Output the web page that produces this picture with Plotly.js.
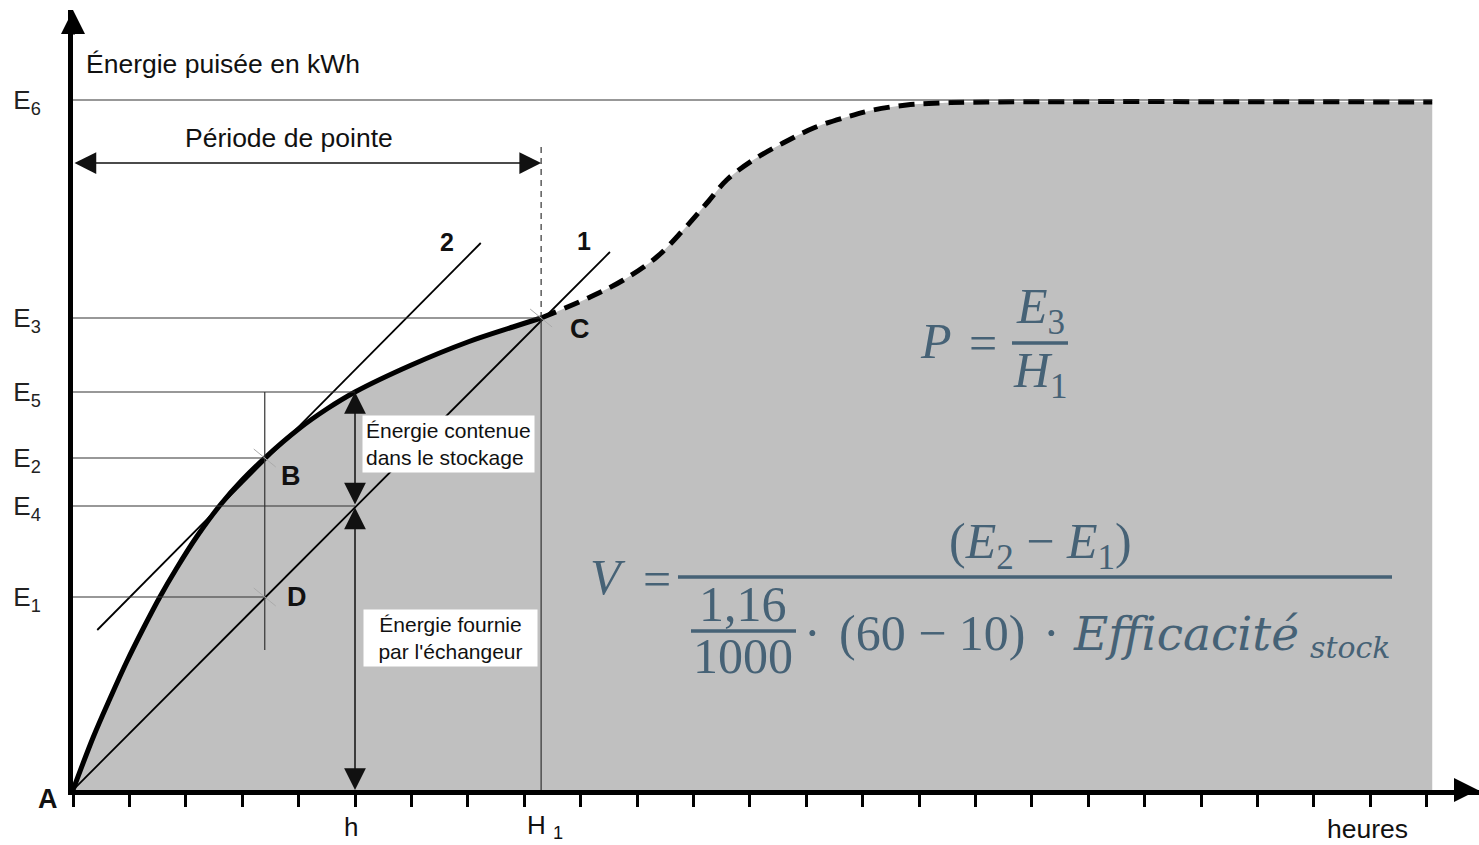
<!DOCTYPE html>
<html><head><meta charset="utf-8">
<script src="https://cdn.plot.ly/plotly-3.0.1.min.js"></script>
<style>html,body{margin:0;padding:0;background:#fff;}#chart{width:1479px;height:845px;}</style>
</head><body><div id="chart"></div>
<script>
// ---------- data (hours on x, energy units on y) ----------
const hourTicks = [0,1,2,3,4,5,6,7,8,9,10,11,12,13,14,15,16,17,18,19,20,21,22,23,24];
const curveHours  = [0, 0.36, 0.66, 0.95, 1.25, 1.54, 1.84, 2.19, 2.61, 3.0, 3.4, 4.0, 4.5, 5.0, 6.0, 7.0, 7.8, 8.3];
const curveEnergy = [0, 5.3, 9.2, 12.8, 16.2, 19.3, 22.2, 25.3, 28.5, 31.0, 33.2, 36.1, 38.1, 39.8, 42.5, 44.8, 46.3, 47.2];
const tailHours   = [8.3, 9.17, 9.76, 10.35, 10.82, 11.24, 11.59, 12.06, 12.59, 13.13, 13.72, 14.19, 14.78, 15.37, 16.2, 24.1];
const tailEnergy  = [47.2, 49.3, 51.0, 53.3, 56.0, 58.7, 61.0, 63.0, 64.7, 66.2, 67.3, 68.0, 68.5, 68.7, 68.8, 68.8];
const levelLabels = ['E<sub>1</sub>','E<sub>2</sub>','E<sub>3</sub>','E<sub>4</sub>','E<sub>5</sub>','E<sub>6</sub>'];
const levelValues = [19.3, 33.2, 47.2, 28.4, 39.8, 69.0];
const line1Hours = [0, 9.52],  line1Energy = [0, 53.8];
const line2Hours = [0.43, 7.23], line2Energy = [16.0, 54.7];
const hourH = 5, hourH1 = 8.3, hourB = 3.4, hourEnd = 24.1;

const [E1, E2, E3, E4, E5, E6] = levelValues;

// ---------- geometry helpers ----------
const W = 1479, H = 845, L = 73, B = 790, T = 10;
const plotW = W - L, plotH = B - T;
const pxPerHour = 56.4, pxPerUnit = 10;
const xMax = plotW / pxPerHour, yMax = plotH / pxPerUnit;
const px = x => (x - L) / plotW;
const py = y => (B - y) / plotH;
const dy = pix => pix / pxPerUnit;
const dxh = pix => pix / pxPerHour;

const SANS = 'Liberation Sans, Arial, sans-serif';
const SERIF = 'Liberation Serif, Times New Roman, serif';
const WSERIF = 'DejaVu Serif, serif';
const FCOL = '#466276';

const traces = [
  {x: curveHours.concat(tailHours.slice(1)), y: curveEnergy.concat(tailEnergy.slice(1)),
   mode:'lines', line:{width:0, shape:'spline', smoothing:1, simplify:false}, fill:'tozeroy', fillcolor:'#c0c0c0', hoverinfo:'skip'},
  {x: line1Hours, y: line1Energy, mode:'lines', line:{color:'#000', width:1.8}},
  {x: line2Hours, y: line2Energy, mode:'lines', line:{color:'#000', width:1.8}},
  {x: curveHours, y: curveEnergy, mode:'lines', line:{color:'#000', width:5, shape:'spline', smoothing:1, simplify:false}},
  {x: tailHours, y: tailEnergy, mode:'lines', line:{color:'#000', width:5, dash:'16px,9px', shape:'spline', smoothing:1, simplify:false}}
];

const thin = {color:'#333', width:1.2};
const hline = (y, x1) => ({type:'line', xref:'x', yref:'y', x0:0, x1:x1, y0:y, y1:y, line:thin});
const cross = (x, y) => ({type:'line', xref:'x', yref:'y', x0:x - dxh(11), x1:x + dxh(11), y0:y + dy(9), y1:y - dy(9), line:{color:'#aaa', width:1}});
const bar = (x0, x1, y, w) => ({type:'line', xref:'paper', yref:'paper', x0:px(x0), x1:px(x1), y0:py(y), y1:py(y), line:{color:FCOL, width:w}});

const shapes = [
  hline(E6, hourEnd), hline(E3, hourH1), hline(E5, hourH), hline(E2, hourB), hline(E4, hourH), hline(E1, hourB),
  {type:'line', x0:hourB, x1:hourB, y0:E5, y1:dy(140), line:thin},
  {type:'line', x0:hourH1, x1:hourH1, y0:0, y1:E3, line:thin},
  {type:'line', x0:hourH1, x1:hourH1, y0:E3, y1:dy(645), line:{color:'#333', width:1.2, dash:'6px,5px'}},
  cross(hourB, E2), cross(hourB, E1), cross(hourH1, E3),
  bar(1012, 1068, 343, 3.5),
  bar(678, 1392, 577, 3.5),
  bar(691, 796, 631, 3.5)
];

const txt = (text, x, y, size, opts) => Object.assign({
  text, xref:'paper', yref:'paper', x:px(x), y:py(y), showarrow:false,
  xanchor:'center', yanchor:'middle', font:{family:SANS, size, color:'#111'}}, opts || {});
const ftxt = (text, x, y, size, opts, fam) => txt(text, x, y, size, Object.assign({font:{family:fam || SERIF, size, color:FCOL}}, opts || {}));

const arrow = (x, y, ax, ay, both, w, s) => ({
  x, y, ax, ay, xref:'x', yref:'y', axref:'x', ayref:'y', text:'', showarrow:true,
  arrowhead:2, startarrowhead:2, arrowside: both ? 'end+start' : 'end',
  arrowwidth:w, arrowsize:s, startarrowsize:s, arrowcolor:'#111'});

const annotations = [
  // axis arrowheads
  {x:0, y:1, xref:'paper', yref:'paper', ax:0, ay:26, text:'', showarrow:true, arrowhead:2, arrowwidth:4, arrowsize:1.2, arrowcolor:'#000'},
  {x:1, y:0, xref:'paper', yref:'paper', ax:-26, ay:0, text:'', showarrow:true, arrowhead:2, arrowwidth:4, arrowsize:1.2, arrowcolor:'#000'},
  // double arrows
  arrow(hourH1, dy(790-163), 0, dy(790-163), true, 1.5, 2.9),
  arrow(hourH, E5, hourH, E4, true, 1.5, 2.9),
  arrow(hourH, 0, hourH, E4, true, 1.5, 2.9),
  // texts
  txt('Énergie puisée en kWh', 84, 64, 26.5, {xanchor:'left'}),
  txt('Période de pointe', 289, 138, 26.5),
  txt('<b>2</b>', 447, 242, 25),
  txt('<b>1</b>', 584, 241, 25),
  txt('<b>C</b>', 580, 329, 27),
  txt('<b>B</b>', 291, 476, 27),
  txt('<b>D</b>', 297, 597, 27),
  txt('<b>A</b>', 48, 799, 27),
  txt('h', 351, 827, 26),
  txt('H <sub>1</sub>', 545, 826, 26),
  txt('heures', 1367, 829, 26.5),
  txt('Énergie contenue<br>dans le stockage', 362, 444, 21, {xanchor:'left', align:'left', bgcolor:'#fff', borderpad:3}),
  txt('Énergie fournie<br>par l\'échangeur', 363, 638, 21, {xanchor:'left', align:'center', bgcolor:'#fff', borderpad:3, width:167}),
  // formula P
  ftxt('<i>P</i>', 936, 341, 50),
  ftxt('=', 983, 343, 50),
  ftxt('<i>E</i><sub>3</sub>', 1040, 310, 50),
  ftxt('<i>H</i><sub>1</sub>', 1040, 374, 50),
  // formula V
  ftxt('<i>V</i>', 608, 577, 50),
  ftxt('=', 657, 579, 50),
  ftxt('(<i>E</i><sub>2</sub> − <i>E</i><sub>1</sub>)', 1040, 545, 50),
  ftxt('1,16', 743, 604, 50),
  ftxt('1000', 743, 656, 50),
  ftxt('·', 812, 633, 50),
  ftxt('(60 − 10)', 932, 633, 50),
  ftxt('·', 1051, 633, 50),
  ftxt('<i>Efficacité</i>', 1071, 633, 47, {xanchor:'left'}, WSERIF),
  ftxt('<i>stock</i>', 1308, 647, 30, {xanchor:'left'}, WSERIF)
];

const layout = {
  width:W, height:H, margin:{l:L, r:W - L - plotW, t:T, b:H - B},
  paper_bgcolor:'#fff', plot_bgcolor:'#fff', showlegend:false,
  xaxis:{range:[0, xMax], showgrid:false, zeroline:false, showline:true, linecolor:'#000', linewidth:5,
         ticks:'outside', ticklen:12, tickwidth:3, tickcolor:'#000', tickvals:hourTicks, showticklabels:false, fixedrange:true},
  yaxis:{range:[0, yMax], showgrid:false, zeroline:false, showline:true, linecolor:'#000', linewidth:5,
         ticks:'', tickvals:levelValues, ticktext:levelLabels, ticklabelstandoff:22,
         tickfont:{family:SANS, size:26, color:'#222'}, fixedrange:true},
  shapes, annotations, hovermode:false
};

Plotly.newPlot('chart', traces, layout, {displayModeBar:false, staticPlot:true});
</script></body></html>
